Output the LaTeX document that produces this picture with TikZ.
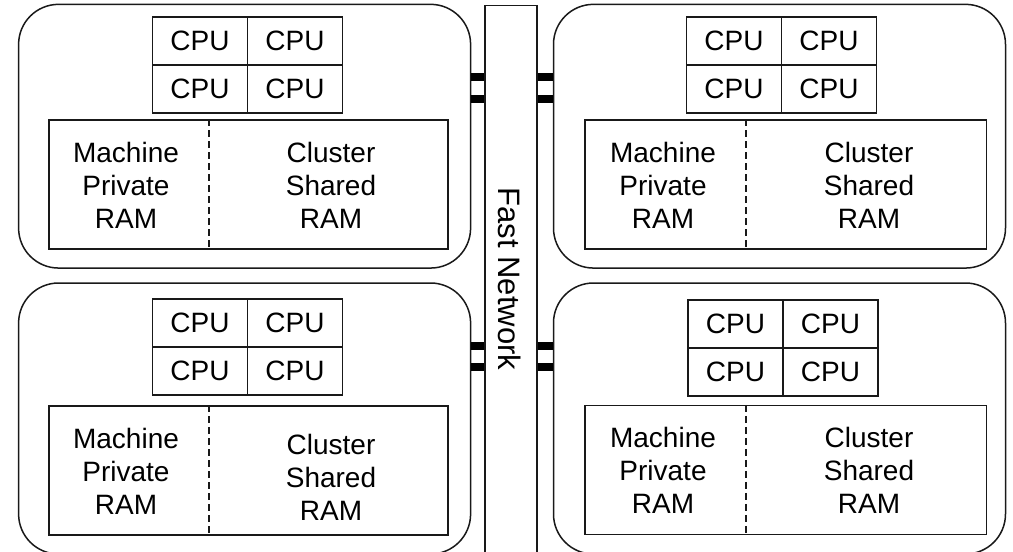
\documentclass[tikz,border=0pt]{standalone}
\usepackage{fontspec}
\setmainfont{Liberation Sans}
\begin{document}
\begin{tikzpicture}[x=1pt,y=-1pt,
  machine/.style={draw=black!90, rounded corners=40pt, line width=1.5pt, minimum width=452pt, inner sep=0pt},
  cpucell/.style={draw=black!90, line width=1.2pt, inner sep=0pt, minimum width=95pt, minimum height=48pt, font=\fontsize{28}{33}\selectfont},
  rambox/.style={draw=black!90, line width=1.2pt, inner sep=0pt, minimum height=129pt},
  divider/.style={draw=black!90, line width=1.2pt, dash pattern=on 7pt off 4pt},
  memtext/.style={align=center, font=\fontsize{28}{33}\selectfont, inner sep=0pt},
  link/.style={draw=black, line width=8pt},
  netbar/.style={draw=black!90, line width=1.2pt, minimum width=52pt, minimum height=560pt, inner sep=0pt}]
\useasboundingbox (0,0) rectangle (1013,552);
\clip (0,0) rectangle (1013,552);

% network
\node[netbar] (net) at (511,285.3) {};
\node[rotate=-90, font=\fontsize{31}{36}\selectfont, inner sep=0pt] (netlabel) at (510,279) {Fast Network};

% machines
\node[machine, minimum height=263.7pt] (m1) at (244.6,136.2) {};
\node[machine, minimum height=263.7pt] (m2) at (779.5,136.2) {};
\node[machine, minimum height=271pt] (m3) at (244.6,418.5) {};
\node[machine, minimum height=271pt] (m4) at (779.5,418.5) {};

% CPU grids
\node[cpucell] (c1a) at (200,41) {CPU};
\node[cpucell] (c1b) at (295,41) {CPU};
\node[cpucell] (c1c) at (200,89) {CPU};
\node[cpucell] (c1d) at (295,89) {CPU};

\node[cpucell] (c2a) at (734,41) {CPU};
\node[cpucell] (c2b) at (829,41) {CPU};
\node[cpucell] (c2c) at (734,89) {CPU};
\node[cpucell] (c2d) at (829,89) {CPU};

\node[cpucell] (c3a) at (200,323) {CPU};
\node[cpucell] (c3b) at (295,323) {CPU};
\node[cpucell] (c3c) at (200,371) {CPU};
\node[cpucell] (c3d) at (295,371) {CPU};

\node[cpucell] (c4a) at (735.5,324) {CPU};
\node[cpucell] (c4b) at (830.5,324) {CPU};
\node[cpucell] (c4c) at (735.5,372) {CPU};
\node[cpucell] (c4d) at (830.5,372) {CPU};

% RAM boxes
\node[rambox, minimum width=399pt] (r1) at (248.5,184.5) {};
\node[rambox, minimum width=401.6pt] (r2) at (785.8,184.5) {};
\node[rambox, minimum width=399pt] (r3) at (248.5,470.5) {};
\node[rambox, minimum width=401.6pt] (r4) at (785.8,470) {};

\coordinate (dl) at (209,0);
\coordinate (dr) at (746,0);
\draw[divider] (r1.north -| dl) -- (r1.south -| dl);
\draw[divider] (r2.north -| dr) -- (r2.south -| dr);
\draw[divider] (r3.north -| dl) -- (r3.south -| dl);
\draw[divider] (r4.north -| dr) -- (r4.south -| dr);

% RAM texts
\node[memtext] (p1) at (126,185) {Machine\\Private\\RAM};
\node[memtext] (s1) at (331,185) {Cluster\\Shared\\RAM};
\node[memtext] (p2) at (663,185) {Machine\\Private\\RAM};
\node[memtext] (s2) at (869,185) {Cluster\\Shared\\RAM};
\node[memtext] (p3) at (126,471) {Machine\\Private\\RAM};
\node[memtext] (s3) at (331,477) {Cluster\\Shared\\RAM};
\node[memtext] (p4) at (663,470) {Machine\\Private\\RAM};
\node[memtext] (s4) at (869,470) {Cluster\\Shared\\RAM};

% links
\coordinate (y1) at (0,77);
\coordinate (y2) at (0,98.5);
\coordinate (y3) at (0,345.5);
\coordinate (y4) at (0,366.5);
\draw[link] (m1.east |- y1) -- (net.west |- y1);
\draw[link] (m1.east |- y2) -- (net.west |- y2);
\draw[link] (net.east |- y1) -- (m2.west |- y1);
\draw[link] (net.east |- y2) -- (m2.west |- y2);
\draw[link] (m3.east |- y3) -- (net.west |- y3);
\draw[link] (m3.east |- y4) -- (net.west |- y4);
\draw[link] (net.east |- y3) -- (m4.west |- y3);
\draw[link] (net.east |- y4) -- (m4.west |- y4);
\end{tikzpicture}
\end{document}
